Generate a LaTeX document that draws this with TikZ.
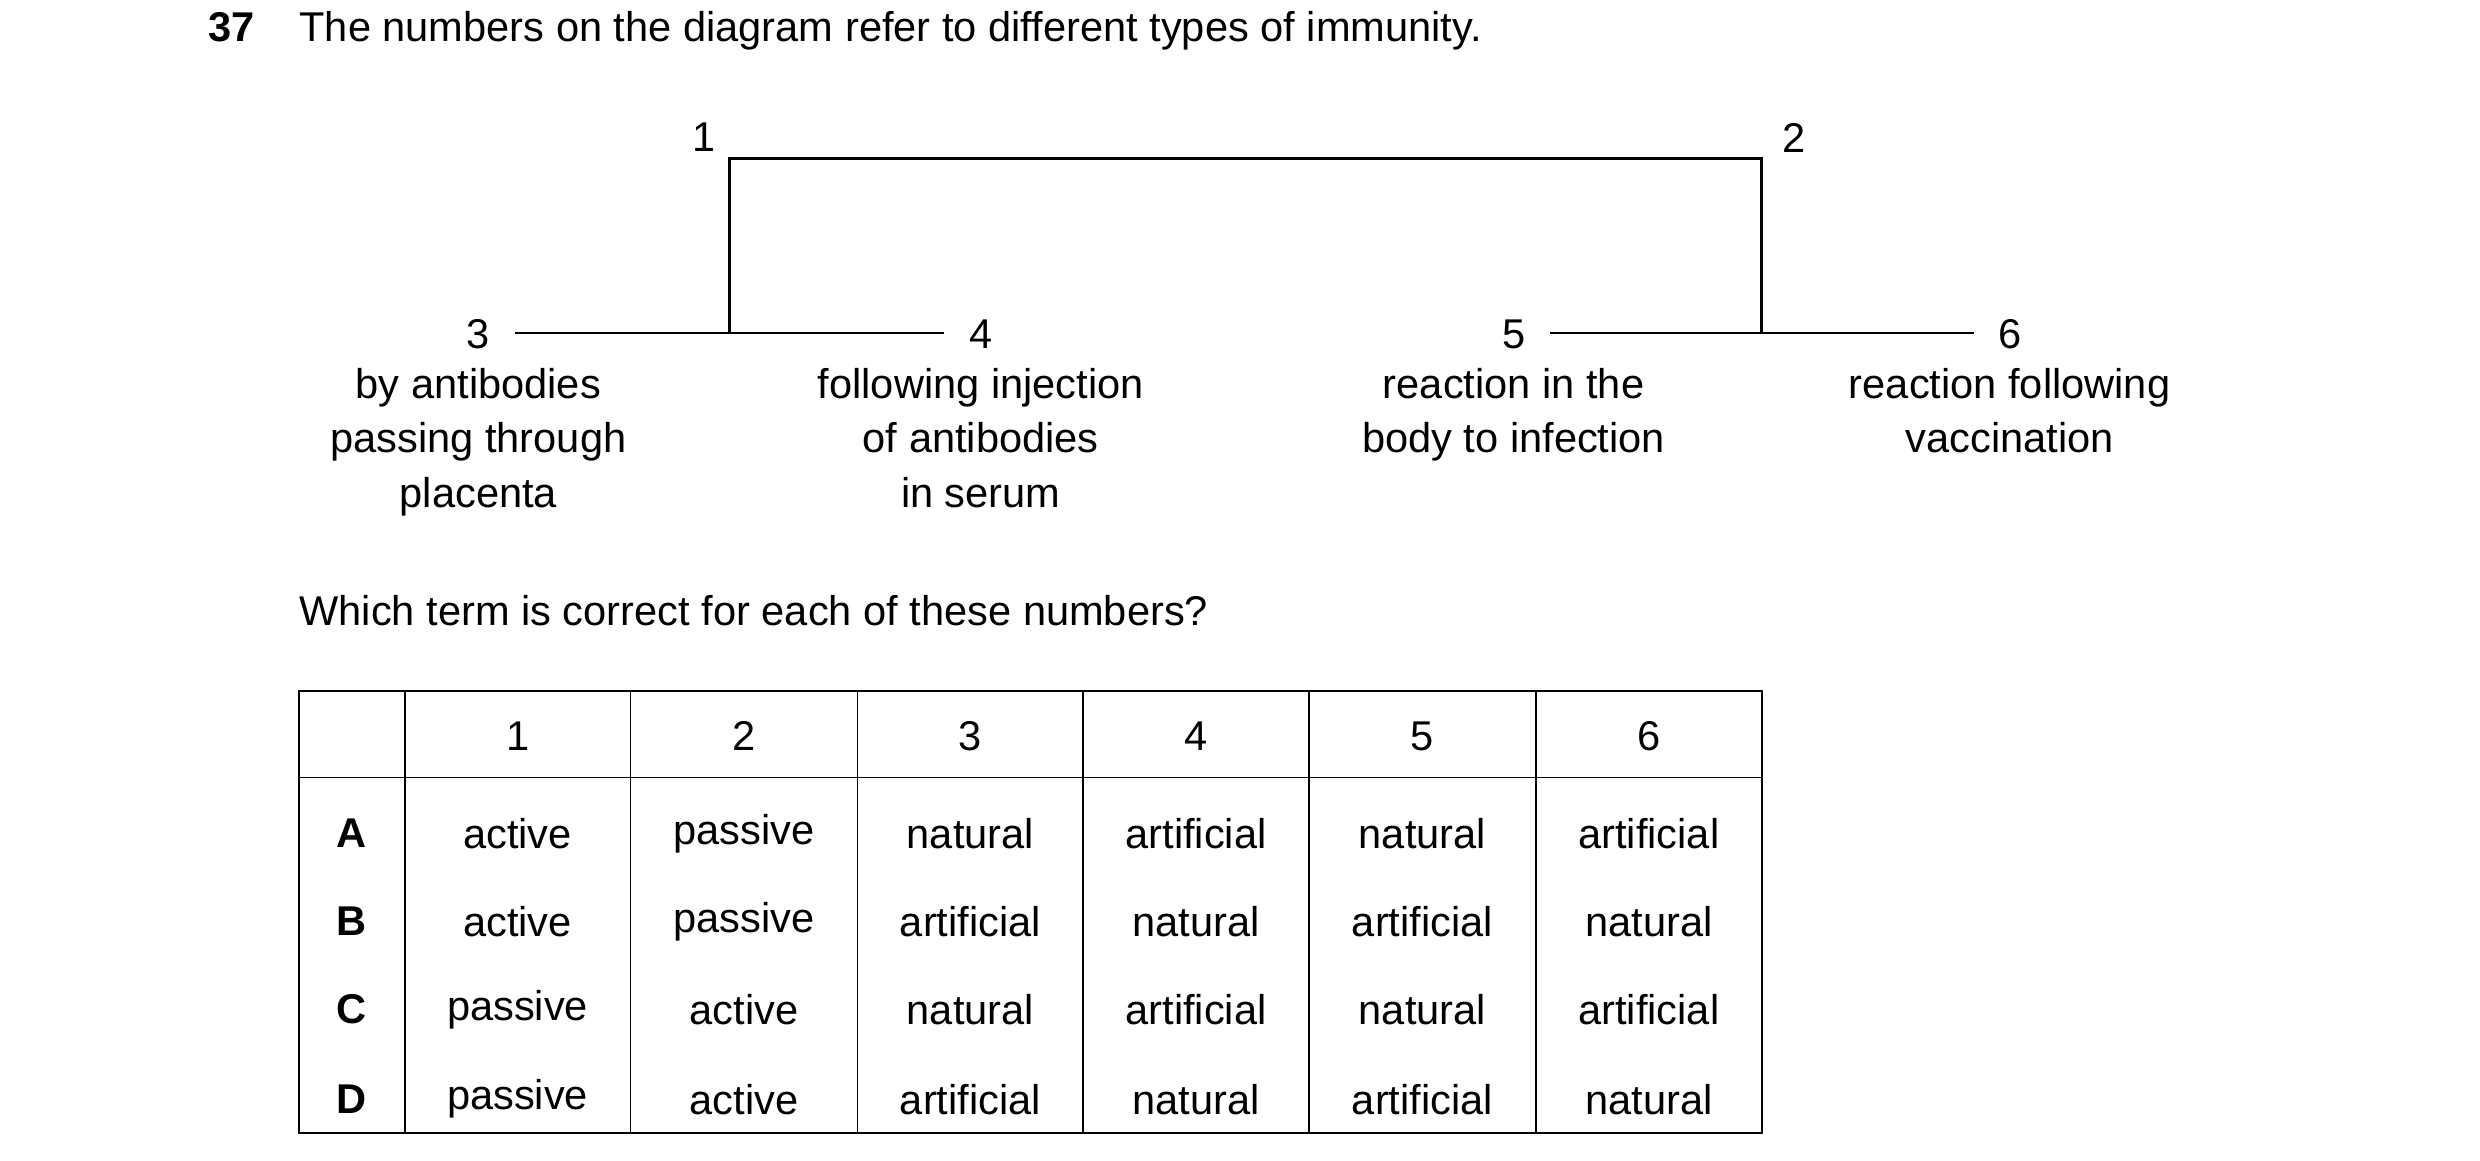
\documentclass[tikz,border=0pt]{standalone}
\usepackage{fontspec}
\setmainfont{Liberation Sans}
\begin{document}
\begin{tikzpicture}[x=1pt,y=-1pt,
  t/.style={font=\fontsize{26}{34}\selectfont,inner sep=0pt,align=center},
  ln/.style={line width=1.6pt},
  tb/.style={line width=1.1pt}]
\useasboundingbox (0,0) rectangle (1550,725.6);
\node[t,anchor=base west] (q) at (130,26) {\textbf{37}};
\node[t,anchor=base west] (title) at (187,26) {The numbers on the diagram refer to different types of immunity.};
\node[t] (n1) at (440,86) {1};
\node[t] (n2) at (1121,86) {2};
\node[t] (n3) at (299,209) {3};
\node[t] (n4) at (613,209) {4};
\node[t] (n5) at (946,209) {5};
\node[t] (n6) at (1256,209) {6};
\coordinate (a) at (456,99); \coordinate (b) at (1101,99);
\coordinate (a2) at (456,208); \coordinate (b2) at (1101,208);
\draw[ln] (a2) -- (a) -- (b) -- (b2);
\draw[ln] (322,208) -- (590,208);
\draw[ln] (969,208) -- (1234,208);
\node[t,anchor=north] (d3) at (299,230) {by antibodies\\passing through\\placenta};
\node[t,anchor=north] (d4) at (613,230) {following injection\\of antibodies\\in serum};
\node[t,anchor=north] (d5) at (946,230) {reaction in the\\body to infection};
\node[t,anchor=north] (d6) at (1256,230) {reaction following\\vaccination};
\node[t,anchor=base west] (w) at (187,391) {Which term is correct for each of these numbers?};
\draw[tb] (187,432) rectangle (1101,708);
\draw[tb] (187,486) -- (1101,486);
\foreach \x in {253,394,536,677,818,960} \draw[tb] (\x,432) -- (\x,708);
\foreach \h/\x in {1/323.5,2/465,3/606.5,4/747.5,5/889,6/1030.5}
  \node[t] (h\h) at (\x,460) {\h};
\foreach \r/\y/\a/\b/\c/\d/\e/\f in {
 A/521/active/passive/natural/artificial/natural/artificial,
 B/576/active/passive/artificial/natural/artificial/natural,
 C/631/passive/active/natural/artificial/natural/artificial,
 D/687/passive/active/artificial/natural/artificial/natural}{
  \node[t] (r\r) at (220,\y) {\textbf{\r}};
  \node[t] at (323.5,\y) {\a};
  \node[t] at (465,\y) {\b};
  \node[t] at (606.5,\y) {\c};
  \node[t] at (747.5,\y) {\d};
  \node[t] at (889,\y) {\e};
  \node[t] at (1030.5,\y) {\f};
}
\end{tikzpicture}
\end{document}
